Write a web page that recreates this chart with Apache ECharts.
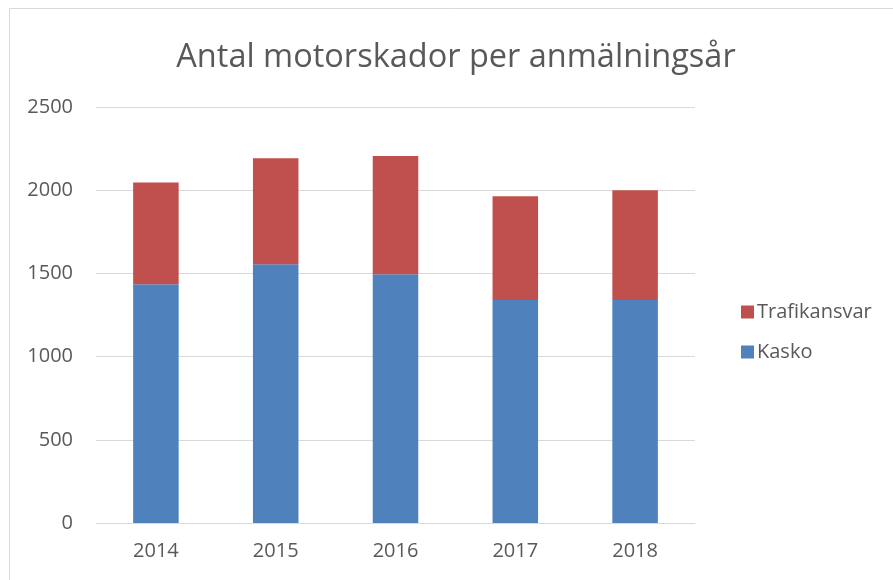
<!DOCTYPE html>
<html>
<head>
<meta charset="utf-8">
<script src="https://cdn.jsdelivr.net/npm/echarts@6/dist/echarts.min.js"></script>
<style>
  html, body { margin: 0; padding: 0; background: #ffffff; }
  #chart { width: 893px; height: 580px; }
</style>
</head>
<body>
<div id="chart"></div>
<script>
// årtal och antal skador
var years = ['2014', '2015', '2016', '2017', '2018']
var kasko = [1435, 1555, 1495, 1340, 1340]
var trafikansvar = [612, 637, 711, 624, 660]
var yTicks = { min: 0, max: 2500, interval: 500 }

var myChart = echarts.init(document.getElementById('chart'))
var textColor = '#595959'
var font = 'Open Sans, DejaVu Sans, sans-serif'

var option = {
  animation: false,
  backgroundColor: '#ffffff',
  title: {
    text: 'Antal motorskador per anmälningsår',
    left: 451,
    textAlign: 'center',
    top: 36,
    textStyle: { color: textColor, fontSize: 32.5, fontWeight: 'normal', fontFamily: font }
  },
  graphic: [{
    type: 'rect',
    shape: { x: 9.5, y: 8.5, width: 900, height: 600 },
    style: { fill: 'none', stroke: '#d9d9d9', lineWidth: 1 },
    silent: true
  }],
  legend: {
    orient: 'vertical',
    left: 736,
    top: 297,
    itemGap: 20,
    itemWidth: 13,
    itemHeight: 13,
    icon: 'rect',
    data: ['Trafikansvar', 'Kasko'],
    textStyle: { color: textColor, fontSize: 20, fontFamily: font, padding: [0, 0, 0, -2] }
  },
  grid: {
    left: 96,
    right: 198,
    top: 107,
    bottom: 57,
    containLabel: false
  },
  xAxis: {
    type: 'category',
    data: years,
    axisLine: { lineStyle: { color: '#d9d9d9', width: 1 } },
    axisTick: { show: false },
    axisLabel: { color: textColor, fontSize: 20, fontFamily: font, margin: 18 }
  },
  yAxis: {
    type: 'value',
    min: yTicks.min,
    max: yTicks.max,
    interval: yTicks.interval,
    axisLine: { show: false },
    axisTick: { show: false },
    splitLine: { lineStyle: { color: '#d9d9d9', width: 1 } },
    axisLabel: {
      color: textColor, fontSize: 20, fontFamily: font, margin: 23,
      formatter: function (v) { return String(v) }
    }
  },
  series: [
    {
      name: 'Kasko',
      type: 'bar',
      stack: 'total',
      barWidth: '38%',
      data: kasko,
      itemStyle: { color: '#4f81bd' }
    },
    {
      name: 'Trafikansvar',
      type: 'bar',
      stack: 'total',
      barWidth: '38%',
      data: trafikansvar,
      itemStyle: { color: '#c0504d' }
    }
  ]
}

myChart.setOption(option)
</script>
</body>
</html>
